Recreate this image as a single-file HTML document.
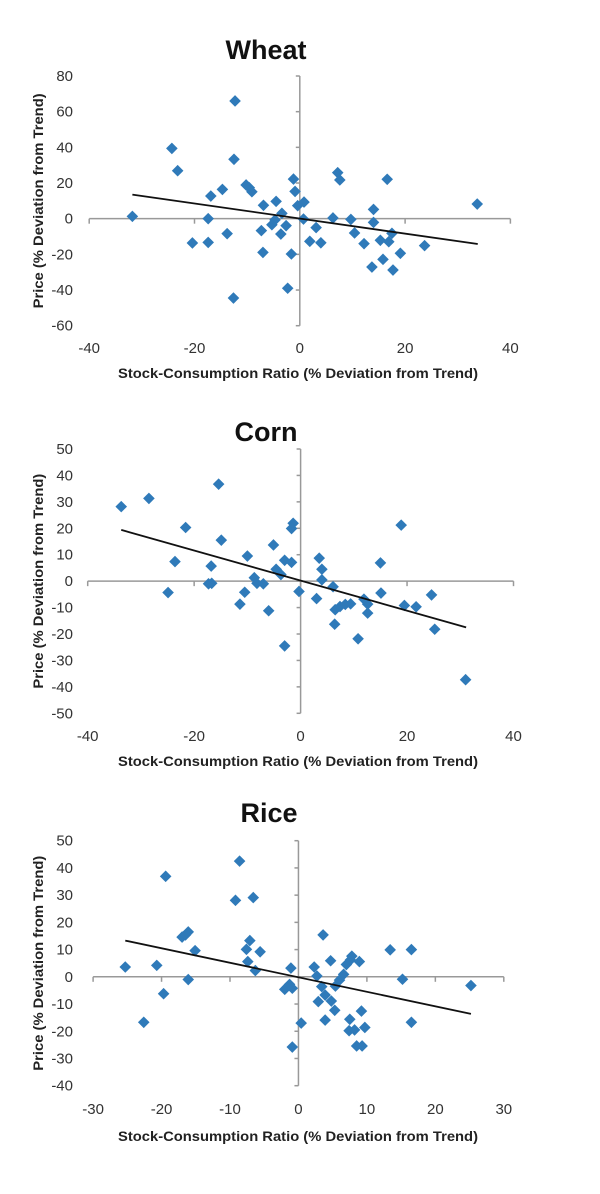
<!DOCTYPE html>
<html><head><meta charset="utf-8"><style>
html,body{margin:0;padding:0;background:#fff;}
svg{display:block;font-family:"Liberation Sans",sans-serif;}
</style></head><body>
<svg id="root" width="600" height="1194" viewBox="0 0 600 1194"></svg>
<script>
const wheatX=[-31.8,-24.3,-23.2,-12.3,-12.5,-14.7,-16.9,-17.4,-20.4,-17.4,-13.8,-12.6,-10.2,-9.6,-9.1,-6.9,-7.3,-7.0,-4.5,-5.3,-4.7,-3.4,-3.6,-2.6,-1.6,-2.3,-1.2,-0.9,-0.4,0.8,0.7,1.9,3.1,4.0,6.3,7.2,7.6,9.7,10.4,12.2,14.0,14.0,13.7,15.3,15.8,16.6,16.9,17.5,17.7,19.1,23.7,33.7];
const wheatY=[1.3,39.4,26.9,66,33.3,16.4,12.7,0,-13.6,-13.3,-8.4,-44.5,18.9,17.4,15.1,7.5,-6.7,-18.9,9.7,-3.4,-0.7,3,-8.6,-3.9,-19.8,-39,22.2,15.3,7.3,9.3,-0.2,-12.7,-5,-13.5,0.4,25.8,21.7,-0.4,-8,-14,5.2,-2.1,-27.1,-12.1,-22.8,22.1,-12.9,-8.2,-28.8,-19.4,-15.1,8.2];
const wheatTrend=[[-31.8,13.5],[33.8,-14.2]];
const cornX=[-33.7,-28.5,-15.4,-21.6,-14.9,-23.6,-24.9,-16.8,-17.3,-16.7,-10,-10.5,-11.4,-8.7,-8.2,-7,-5.1,-6,-4.6,-3.7,-3,-1.7,-3,-1.4,-1.7,-0.3,3,3.5,4,4,6.1,6.4,6.5,7.4,8.4,9.4,10.8,11.9,12.6,12.6,15.0,15.1,18.9,19.5,21.7,24.6,25.2,31.0];
const cornY=[28.2,31.3,36.7,20.3,15.5,7.4,-4.3,5.7,-1,-0.8,9.5,-4.2,-8.7,1.3,-0.8,-1,13.7,-11.2,4.5,2.5,7.9,7.1,-24.5,21.9,19.9,-3.9,-6.6,8.7,4.5,0.5,-2.1,-16.3,-10.8,-9.6,-8.8,-8.6,-21.8,-6.8,-8.7,-12.1,6.9,-4.5,21.2,-9.2,-9.7,-5.2,-18.2,-37.3];
const cornTrend=[[-33.7,19.4],[31.1,-17.5]];
const riceX=[-25.3,-22.6,-20.7,-19.4,-19.7,-17,-16.5,-16.1,-15.1,-16.1,-9.2,-8.6,-6.6,-7.1,-7.6,-7.4,-6.3,-5.6,-1.1,-2,-1.3,-0.9,-0.9,0.4,2.3,2.7,2.9,3.4,3.6,3.9,3.9,4.7,4.8,5.3,5.4,6,6.6,7,7.6,7.8,8.9,7.5,7.4,8.2,9.2,9.7,8.5,9.3,13.4,15.2,16.5,16.5,25.2];
const riceY=[3.6,-16.7,4.2,36.9,-6.2,14.6,15.4,16.5,9.6,-1,28.1,42.5,29.1,13.3,10.1,5.6,2.3,9.2,3.2,-4.6,-2.8,-4.2,-25.8,-17,3.6,0.3,-9.1,-3.6,15.4,-6.7,-15.9,5.9,-8.9,-12.3,-3.4,-1.2,0.9,4.5,6.2,7.6,5.6,-15.6,-19.8,-19.5,-12.6,-18.6,-25.4,-25.4,9.9,-0.9,10,-16.7,-3.2];
const riceTrend=[[-25.3,13.3],[25.2,-13.6]];
const wheatYTicks=[80,60,40,20,0,-20,-40,-60];
const cornYTicks=[50,40,30,20,10,0,-10,-20,-30,-40,-50];
const riceYTicks=[50,40,30,20,10,0,-10,-20,-30,-40];
const wheatXTicks=[-40,-20,0,20,40];
const cornXTicks=[-40,-20,0,20,40];
const riceXTicks=[-30,-20,-10,0,10,20,30];

const NS="http://www.w3.org/2000/svg";
const root=document.getElementById('root');
function mk(tag,attrs,parent){const e=document.createElementNS(NS,tag);for(const k in attrs)e.setAttribute(k,attrs[k]);(parent||root).appendChild(e);return e;}

function chart(o){
  const g=mk('g',{});
  
  
  const sx=v=>o.x0+(v-o.xmin)/(o.xmax-o.xmin)*(o.x1-o.x0);
  const sy=v=>o.y1-(v-o.ymin)/(o.ymax-o.ymin)*(o.y1-o.y0);
  const t=mk('text',{x:o.titleX,y:o.titleY,'text-anchor':'middle','font-size':27,'font-weight':'bold',fill:'#111'},g);
  t.textContent=o.title;
  
  
  const ax=mk('g',{stroke:'#999','stroke-width':1.5},g);
  
  
  mk('line',{x1:sx(o.xmin),x2:sx(o.xmax),y1:sy(0),y2:sy(0)},ax);
  mk('line',{x1:sx(0),x2:sx(0),y1:sy(o.ymax),y2:sy(o.ymin)},ax);
  o.yt.forEach(v=>{
    mk('line',{x1:sx(0)-4,x2:sx(0),y1:sy(v),y2:sy(v)},ax);
    const l=mk('text',{x:73,y:sy(v)+5,'text-anchor':'end','font-size':15,fill:'#333'},g);
    l.textContent=v;
    
    
  });
  o.xt.forEach(v=>{
    mk('line',{x1:sx(v),x2:sx(v),y1:sy(0),y2:sy(0)+5},ax);
    const l=mk('text',{x:sx(v),y:o.xlabY,'text-anchor':'middle','font-size':15,fill:'#333'},g);
    l.textContent=v;
    
    
  });
  const xt=mk('text',{x:298,y:o.xtitleY,'text-anchor':'middle','font-size':14,'font-weight':'bold',fill:'#222',textLength:360,lengthAdjust:'spacingAndGlyphs'},g);
  xt.textContent='Stock-Consumption Ratio (% Deviation from Trend)';
  
  
  const yc=(o.y0+o.y1)/2;
  const yt=mk('text',{x:0,y:0,transform:`translate(43,${yc}) rotate(-90)`,'text-anchor':'middle','font-size':14,'font-weight':'bold',fill:'#222',textLength:215,lengthAdjust:'spacingAndGlyphs'},g);
  yt.textContent='Price (% Deviation from Trend)';
  
  
  const pts=mk('g',{fill:'#2f7ab9'},g);
  
  
  o.xs.forEach((xv,i)=>{
    const cx=sx(xv),cy=sy(o.ys[i]),r=5.8;
    const p=mk('polygon',{points:`${cx},${cy-r} ${cx+r},${cy} ${cx},${cy+r} ${cx-r},${cy}`},pts);
    
    
  });
  const tl=mk('line',{x1:sx(o.tr[0][0]),y1:sy(o.tr[0][1]),x2:sx(o.tr[1][0]),y2:sy(o.tr[1][1]),stroke:'#111','stroke-width':1.8},g);
  
  
}
chart({key:'wheat',title:'Wheat',titleX:266,titleY:59,x0:89.2,x1:510.4,xmin:-40,xmax:40,y0:76,y1:325.7,ymin:-60,ymax:80,yt:wheatYTicks,xt:wheatXTicks,xs:wheatX,ys:wheatY,tr:wheatTrend,xlabY:353,xtitleY:378});
chart({key:'corn',title:'Corn',titleX:266,titleY:441,x0:87.7,x1:513.5,xmin:-40,xmax:40,y0:449,y1:713.3,ymin:-50,ymax:50,yt:cornYTicks,xt:cornXTicks,xs:cornX,ys:cornY,tr:cornTrend,xlabY:741,xtitleY:766});
chart({key:'rice',title:'Rice',titleX:269,titleY:822,x0:93.1,x1:503.8,xmin:-30,xmax:30,y0:840.7,y1:1085.7,ymin:-40,ymax:50,yt:riceYTicks,xt:riceXTicks,xs:riceX,ys:riceY,tr:riceTrend,xlabY:1114,xtitleY:1141});
</script>
</body></html>
